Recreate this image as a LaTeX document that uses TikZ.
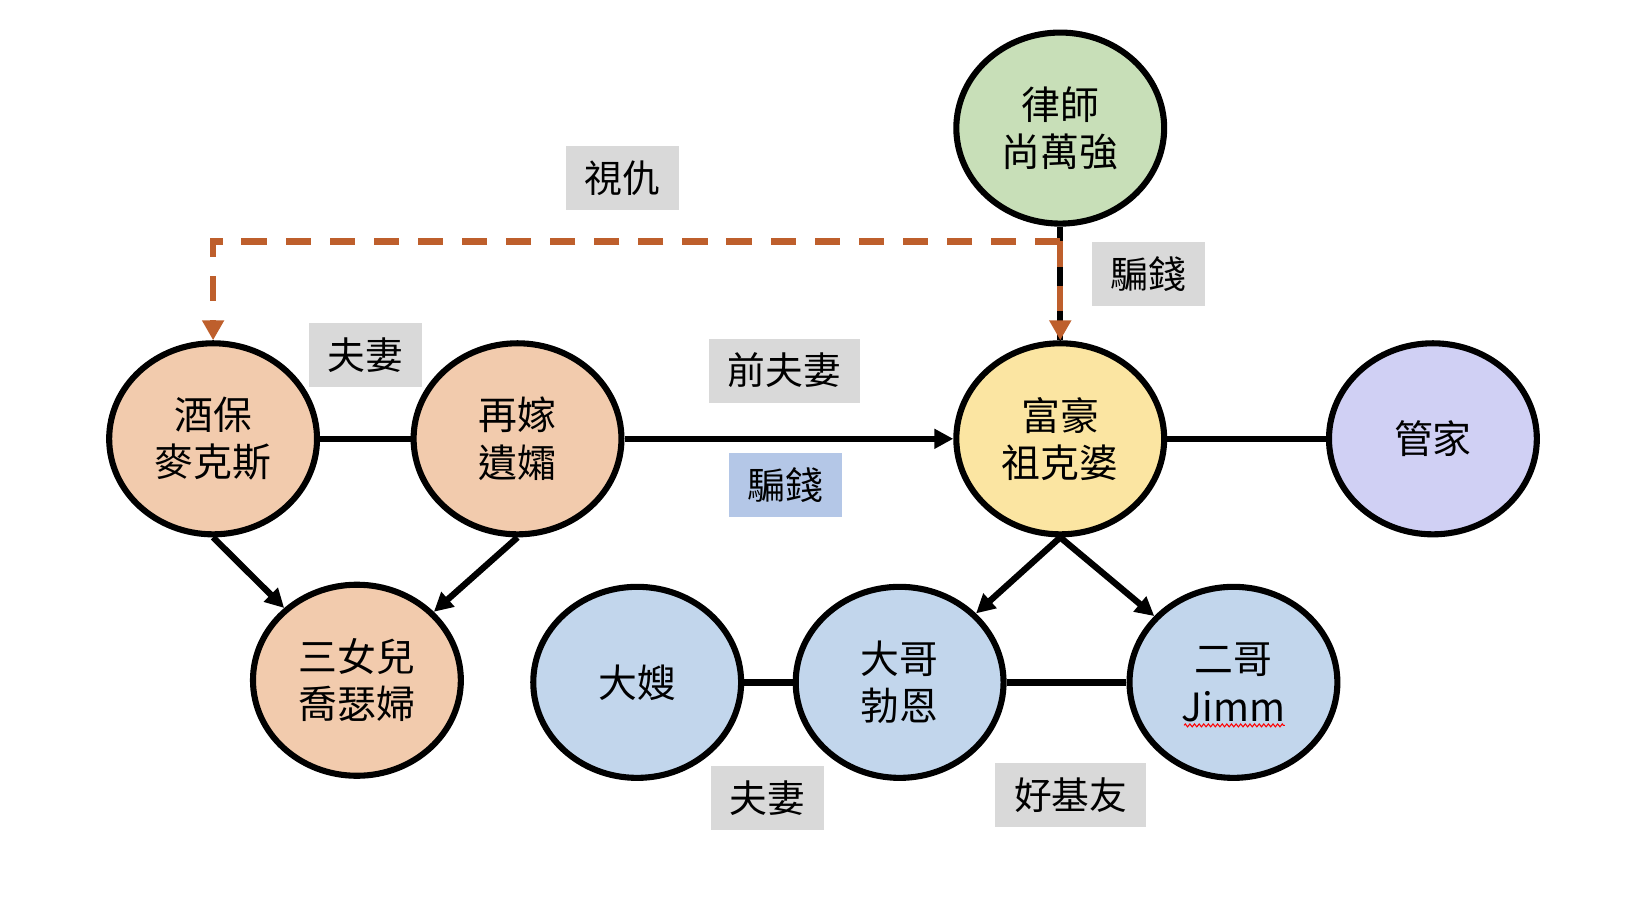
\documentclass[tikz,border=0pt]{standalone}
\usepackage{fontspec}
\setmainfont{Noto Sans CJK TC}
\usetikzlibrary{shapes.geometric,arrows.meta,decorations.pathmorphing}
\definecolor{peach}{HTML}{F2CBAD}
\definecolor{sage}{HTML}{C8DFB8}
\definecolor{gold}{HTML}{FBE5A2}
\definecolor{lav}{HTML}{D0D0F4}
\definecolor{sky}{HTML}{C2D6EC}
\definecolor{lgray}{HTML}{D9D9D9}
\definecolor{lblue}{HTML}{B4C7E7}
\definecolor{orng}{HTML}{BE5F2C}
\begin{document}
\begin{tikzpicture}[x=0.5pt,y=-0.5pt,
  person/.style={ellipse, draw=black, line width=2.9pt, minimum width=99pt, minimum height=91pt,
    inner sep=0pt, align=center, font=\fontsize{18.5}{22.5}\selectfont},
  lbl/.style={fill=lgray, inner xsep=9pt, inner ysep=0pt, minimum height=30.5pt,
    font=\fontsize{18}{22}\selectfont},
  link/.style={line width=3pt},
  arr/.style={link, -{Triangle[length=9pt,width=9pt]}},
  hate/.style={draw=orng, line width=3pt, dash pattern=on 12pt off 9pt,
    -{Triangle[length=9.5pt,width=10pt]}}
]
\useasboundingbox (0,0) rectangle (1568,880);

% people
\node[person, fill=sage] (law) at (1010,122) {律師\\尚萬強};
\node[person, fill=peach] (jiu) at (203,418) {酒保\\麥克斯};
\node[person, fill=peach] (zai) at (493,418) {再嫁\\遺孀};
\node[person, fill=peach] (san) at (340,648) {三女兒\\喬瑟婦};
\node[person, fill=gold] (fu) at (1010,418) {富豪\\祖克婆};
\node[person, fill=lav] (guan) at (1365,418) {管家};
\node[person, fill=sky] (sao) at (607,650) {大嫂};
\node[person, fill=sky] (da) at (857,650) {大哥\\勃恩};
\node[person, fill=sky] (er) at (1175,650) {二哥\\Jimm};

% spell-check underline under Jimm
\draw[red, line width=0.5pt, decorate, decoration={zigzag, amplitude=0.7pt, segment length=2.2pt}]
  ([xshift=-23.5pt,yshift=-20.5pt]er.center) -- ([xshift=24.5pt,yshift=-20.5pt]er.center);

% connectors
\draw[link] (jiu) -- (zai);
\draw[arr] (zai) -- (fu);
\draw[link] (fu) -- (guan);
\draw[arr] (jiu.south) -- (san);
\draw[arr] (zai.south) -- (san);
\draw[arr] (fu.south) -- (da);
\draw[arr] (fu.south) -- (er);
\draw[link] (sao) -- (da);
\draw[link] (da) -- (er);
\draw[link] (law.south) -- (fu.north);

\coordinate (j) at (1010,230);
\draw[hate] (j) -| (jiu.north);
\draw[hate] (j) -- (fu.north);

% labels
\node[lbl] (l1) at (593,170) {視仇};
\node[lbl] (l2) at (1094,261) {騙錢};
\node[lbl] (l3) at (348,338) {夫妻};
\node[lbl] (l4) at (747,353) {前夫妻};
\node[lbl, fill=lblue] (l5) at (748,462) {騙錢};
\node[lbl] (l6) at (731,760) {夫妻};
\node[lbl] (l7) at (1020,757) {好基友};
\end{tikzpicture}
\end{document}
